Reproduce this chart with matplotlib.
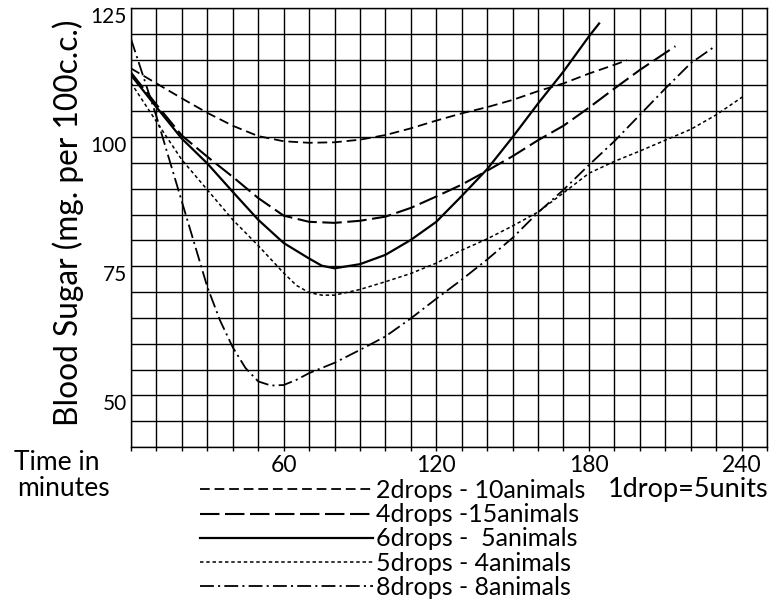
import numpy as np
import matplotlib
matplotlib.use('Agg')
import matplotlib.pyplot as plt
from matplotlib.transforms import ScaledTranslation

plt.rcParams['font.family'] = ['Lato', 'DejaVu Sans']
plt.rcParams['lines.scale_dashes'] = False

# readings (minutes, mg per 100 c.c.)
x_2drops = [0, 10, 20, 30, 40, 50, 60, 70, 80, 90, 100, 110, 120, 130, 140, 150, 160, 170, 180, 190, 195]
y_2drops = [113.3, 110.4, 107.5, 104.7, 102.2, 100.2, 99.2, 98.9, 99.0, 99.5, 100.4, 101.7, 103.2, 104.6,
            105.8, 107.2, 108.9, 110.4, 112.3, 114.0, 114.9]

x_4drops = [0, 10, 20, 30, 40, 50, 60, 70, 80, 90, 100, 110, 120, 130, 140, 150, 160, 170, 180, 190, 200, 210, 214]
y_4drops = [112.5, 106.3, 100.3, 96.2, 92.3, 88.2, 84.8, 83.6, 83.4, 83.8, 84.6, 86.3, 88.5, 90.8,
            93.5, 96.3, 99.4, 102.2, 105.7, 109.4, 113.0, 116.3, 117.6]

x_6drops = [0, 10, 20, 30, 40, 50, 60, 70, 75, 80, 90, 100, 110, 120, 130, 140, 150, 160, 170, 180, 184]
y_6drops = [112.0, 105.8, 99.7, 94.9, 89.4, 84.0, 79.5, 76.5, 75.1, 74.6, 75.4, 77.2, 80.1, 83.6,
            88.6, 93.8, 100.0, 106.5, 112.7, 119.5, 122.0]

x_5drops = [0, 10, 20, 30, 40, 50, 60, 65, 70, 75, 80, 90, 100, 110, 120, 130, 140, 150, 160, 170,
            180, 190, 200, 210, 220, 230, 241]
y_5drops = [110.5, 103.0, 95.6, 89.8, 84.0, 79.0, 73.7, 71.3, 69.9, 69.4, 69.4, 70.5, 72.0, 73.6, 75.6,
            78.1, 80.3, 82.8, 85.5, 89.2, 93.0, 95.3, 97.3, 99.4, 101.5, 104.3, 108.0]

x_8drops = [0, 10, 20, 30, 35, 40, 45, 50, 55, 60, 65, 70, 80, 90, 100, 110, 120, 130, 140, 150,
            160, 170, 180, 190, 200, 210, 220, 229]
y_8drops = [119.0, 104.0, 87.5, 71.0, 64.5, 59.3, 55.3, 52.7, 51.9, 52.0, 53.0, 54.3, 56.3, 58.8, 61.4,
            64.9, 68.7, 72.4, 76.3, 80.5, 85.4, 89.8, 94.6, 99.2, 104.3, 109.4, 114.3, 117.4]

labels = ['2drops - 10animals', '4drops -15animals', '6drops -  5animals',
          '5drops - 4animals', '8drops - 8animals']
y_ticks = [50, 75, 100, 125]
x_ticks = [60, 120, 180, 240]

fig = plt.figure(figsize=(7.72, 6.04), dpi=100)
ax = fig.add_axes([131 / 772, 157 / 604, 636 / 772, 439 / 604])

ax.plot(x_2drops, y_2drops, color='k', lw=1.3, ls=(0, (7, 3.5)), label=labels[0])
ax.plot(x_4drops, y_4drops, color='k', lw=1.5, ls=(0, (14, 4)), label=labels[1])
ax.plot(x_6drops, y_6drops, color='k', lw=1.6, ls='-', label=labels[2])
ax.plot(x_5drops, y_5drops, color='k', lw=1.1, ls=(0, (2.5, 2)), label=labels[3])
ax.plot(x_8drops, y_8drops, color='k', lw=1.3, ls=(0, (10, 3, 1.5, 3)), label=labels[4])

ax.set_xlim(0, 250)
ax.set_ylim(40, 125)
ax.set_xticks(x_ticks)
ax.set_xticks(np.arange(0, 251, 10), minor=True)
ax.set_yticks(y_ticks)
ax.set_yticks(np.arange(40, 126, 5), minor=True)
ax.grid(True, which='both', color='k', lw=1.0)
for s in ax.spines.values():
    s.set_linewidth(1.0)

ax.tick_params(axis='y', which='both', length=0, pad=3, labelsize=15)
ax.tick_params(axis='x', which='both', direction='out', length=3, width=1.0, pad=3, labelsize=16.5)
for lab in ax.get_yticklabels():
    lab.set_va('top')
    lab.set_transform(lab.get_transform() + ScaledTranslation(0, 1 / 100, fig.dpi_scale_trans))

fig.text(68 / 772, 1 - 223 / 604, 'Blood Sugar (mg. per 100c.c.)', rotation=90,
         ha='center', va='center', fontsize=22.8)
fig.text(57 / 772, 1 - 463 / 604, 'Time in', ha='center', va='center', fontsize=19)
fig.text(63 / 772, 1 - 488 / 604, 'minutes', ha='center', va='center', fontsize=19)
fig.text(608 / 772, 1 - 490 / 604, '1drop=5units', ha='left', va='center', fontsize=19.5)

fig.legend(loc='upper left', bbox_to_anchor=(200 / 772, 1 - 479 / 604), frameon=False,
           fontsize=18, handlelength=6.9, handletextpad=0.16, labelspacing=0.05,
           borderpad=0, borderaxespad=0)

fig.savefig('out.png', dpi=100)
